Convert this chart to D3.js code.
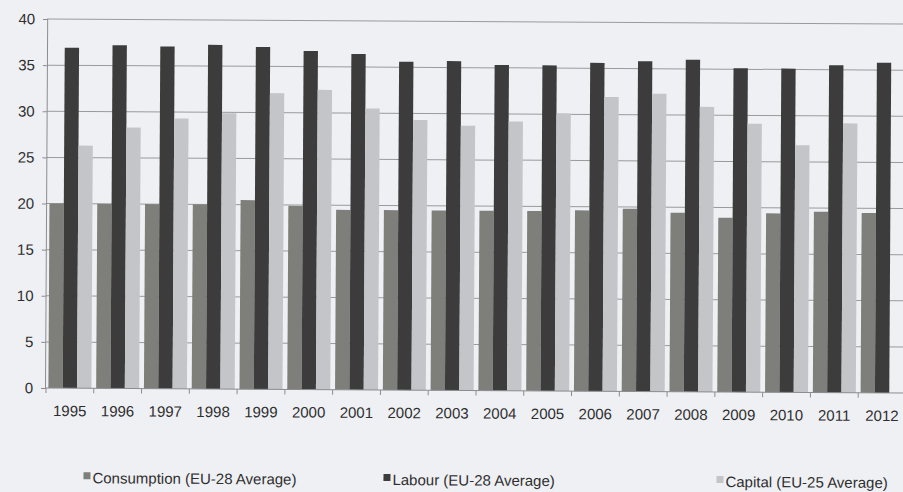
<!DOCTYPE html>
<html>
<head>
<meta charset="utf-8">
<script src="https://cdn.jsdelivr.net/npm/d3@7"></script>
<style>
  html, body { margin: 0; padding: 0; background: #eef0f4; }
  svg { display: block; }
  text { font-family: "Liberation Sans", Arial, sans-serif; fill: #2e2e2e; }
</style>
</head>
<body>
<svg id="chart" width="903" height="492"></svg>
<script>
// Implicit tax rates, EU averages (%)
const years = ["1995","1996","1997","1998","1999","2000","2001","2002","2003",
               "2004","2005","2006","2007","2008","2009","2010","2011","2012"];
const consumption = [20.0, 20.0, 20.0, 20.0, 20.5, 19.9, 19.5, 19.5, 19.5,
                     19.5, 19.5, 19.6, 19.8, 19.4, 18.9, 19.4, 19.6, 19.5];
const labour = [36.9, 37.2, 37.1, 37.3, 37.1, 36.7, 36.4, 35.6, 35.7,
                35.3, 35.3, 35.6, 35.8, 36.0, 35.1, 35.1, 35.5, 35.8];
const capital = [26.3, 28.3, 29.3, 29.9, 32.1, 32.5, 30.5, 29.3, 28.7,
                 29.2, 30.1, 31.9, 32.3, 30.9, 29.1, 26.8, 29.2, null];
const seriesNames = ["Consumption (EU-28 Average)", "Labour (EU-28 Average)", "Capital (EU-25 Average)"];
const seriesColors = ["#7e7f7a", "#3b3c3b", "#c4c5c8"];
const yTicks = [0, 5, 10, 15, 20, 25, 30, 35, 40];

const series = [consumption, labour, capital];

const svg = d3.select("#chart");
// the whole figure sits at a slight tilt
const g = svg.append("g").attr("transform", "rotate(0.34, 45, 388)");

const x = d3.scaleBand().domain(years).range([46, 906]).paddingInner(0.1).paddingOuter(0.05);
const xs = d3.scaleBand().domain(d3.range(3)).range([0, x.bandwidth()]);
const y = d3.scaleLinear().domain([0, 40]).range([388, 19]);

// gridlines
g.append("g").selectAll("line").data(yTicks.filter(d => d > 0)).join("line")
  .attr("x1", 45).attr("x2", 906)
  .attr("y1", d => y(d)).attr("y2", d => y(d))
  .attr("stroke", "#9a9a9c").attr("stroke-width", 1);

// bars
const groups = g.append("g").selectAll("g").data(years).join("g")
  .attr("transform", d => `translate(${x(d)},0)`);
groups.selectAll("rect")
  .data((yr, i) => series.map((s, k) => ({k, v: s[i]})).filter(d => d.v != null))
  .join("rect")
  .attr("x", d => xs(d.k))
  .attr("width", xs.bandwidth())
  .attr("y", d => y(d.v))
  .attr("height", d => y(0) - y(d.v))
  .attr("fill", d => seriesColors[d.k]);

// y axis
const yAxis = d3.axisLeft(y).tickValues(yTicks).tickSize(4).tickPadding(8);
const ya = g.append("g").attr("transform", "translate(45,0)").call(yAxis);
ya.select(".domain").attr("stroke", "#8c8c8e");
ya.selectAll(".tick line").attr("stroke", "#8c8c8e");
ya.selectAll(".tick text").attr("font-size", 15).attr("fill", "#2e2e2e")
  .attr("font-family", "Liberation Sans, Arial, sans-serif");

// x axis with ticks on band boundaries
const xa = g.append("g").attr("transform", `translate(0,${y(0)})`);
xa.append("line").attr("x1", 45).attr("x2", 906).attr("y1", 0).attr("y2", 0)
  .attr("stroke", "#8c8c8e");
const step = x.step();
const x0 = x.range()[0];
xa.selectAll("line.tk").data(d3.range(years.length + 1)).join("line").attr("class", "tk")
  .attr("x1", i => x0 + i * step).attr("x2", i => x0 + i * step)
  .attr("y1", 0).attr("y2", 5).attr("stroke", "#8c8c8e");
xa.selectAll("text").data(years).join("text")
  .attr("x", d => x(d) + x.bandwidth() / 2)
  .attr("y", 28)
  .attr("text-anchor", "middle")
  .attr("font-size", 15)
  .text(d => d);

// legend
const legendX = [84, 384, 717];
const lg = g.append("g").selectAll("g").data(seriesNames).join("g")
  .attr("transform", (d, i) => `translate(${legendX[i]},478)`);
lg.append("rect").attr("x", 0).attr("y", -6).attr("width", 7).attr("height", 7)
  .attr("fill", (d, i) => seriesColors[i]);
lg.append("text").attr("x", 9).attr("y", 5).attr("font-size", 15).text(d => d);
</script>
</body>
</html>
